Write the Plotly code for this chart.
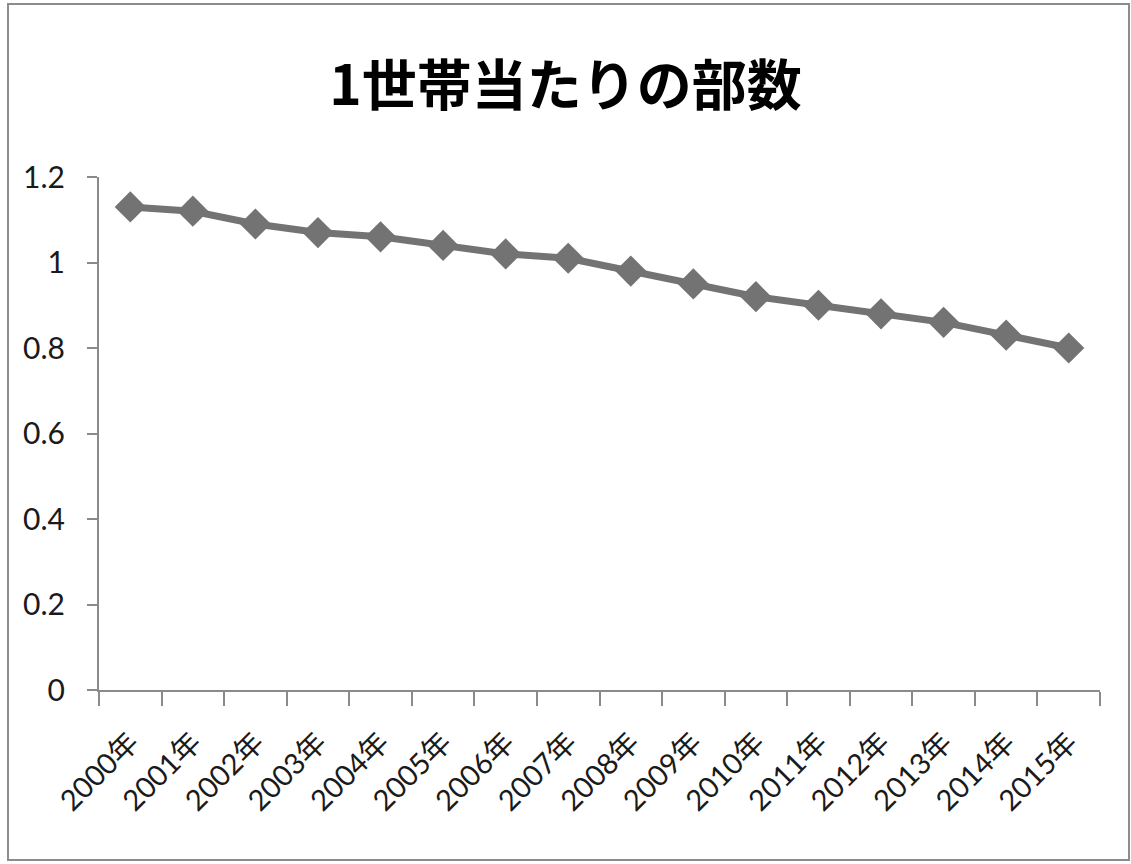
import plotly.graph_objects as go

# Copies per household, 2000-2015
years = ["2000年", "2001年", "2002年", "2003年", "2004年", "2005年", "2006年", "2007年",
         "2008年", "2009年", "2010年", "2011年", "2012年", "2013年", "2014年", "2015年"]
copies = [1.13, 1.12, 1.09, 1.07, 1.06, 1.04, 1.02, 1.01,
          0.98, 0.95, 0.92, 0.90, 0.88, 0.86, 0.83, 0.80]
y_ticks = [0, 0.2, 0.4, 0.6, 0.8, 1.0, 1.2]

W, H = 1131, 864
L, R, T, B = 99, 31, 177, 174
plot_w = W - L - R
plot_h = H - T - B

line_grey = "#737373"
axis_grey = "#8a8a8a"
y_font = dict(family="Lato, 'Noto Sans CJK JP', sans-serif", size=30, color="#1a1a1a")
x_font = dict(family="Lato, 'Noto Sans CJK JP', sans-serif", size=29, color="#1a1a1a")

fig = go.Figure(
    go.Scatter(
        x=years,
        y=copies,
        mode="lines+markers",
        line=dict(color=line_grey, width=7),
        marker=dict(symbol="diamond", size=24, color=line_grey),
        showlegend=False,
        cliponaxis=False,
    )
)


def px_to_paper_x(px):
    return (px - L) / plot_w


def px_to_paper_y(py):
    return (H - B - py) / plot_h


# outer chart frame
fig.add_shape(
    type="rect", xref="paper", yref="paper",
    x0=px_to_paper_x(8), x1=px_to_paper_x(1129),
    y0=px_to_paper_y(860), y1=px_to_paper_y(4),
    line=dict(color="#8c8c8c", width=2), fillcolor="rgba(0,0,0,0)", layer="below",
)

fig.update_layout(
    width=W, height=H,
    margin=dict(l=L, r=R, t=T, b=B),
    paper_bgcolor="white", plot_bgcolor="white",
    title=dict(
        text="<b>1世帯当たりの部数</b>",
        x=0.5, xanchor="center",
        y=1 - 86 / H, yanchor="middle", yref="container",
        font=dict(family="'Noto Sans CJK JP', sans-serif", size=55, color="black"),
    ),
    xaxis=dict(
        type="category",
        range=[-0.5, len(years) - 0.5],
        tickangle=-45,
        tickson="boundaries",
        ticks="outside", ticklen=14, tickwidth=2, tickcolor=axis_grey,
        ticklabelstandoff=22,
        showline=True, linecolor=axis_grey, linewidth=2,
        showgrid=False, zeroline=False,
        tickfont=x_font,
    ),
    yaxis=dict(
        range=[0, 1.2],
        tickvals=y_ticks,
        ticktext=[f"{v:g}" for v in y_ticks],
        ticks="outside", ticklen=10, tickwidth=2, tickcolor=axis_grey,
        ticklabelstandoff=16,
        showline=True, linecolor=axis_grey, linewidth=2,
        showgrid=False, zeroline=False,
        tickfont=y_font,
    ),
)

fig.write_html("out.html")
